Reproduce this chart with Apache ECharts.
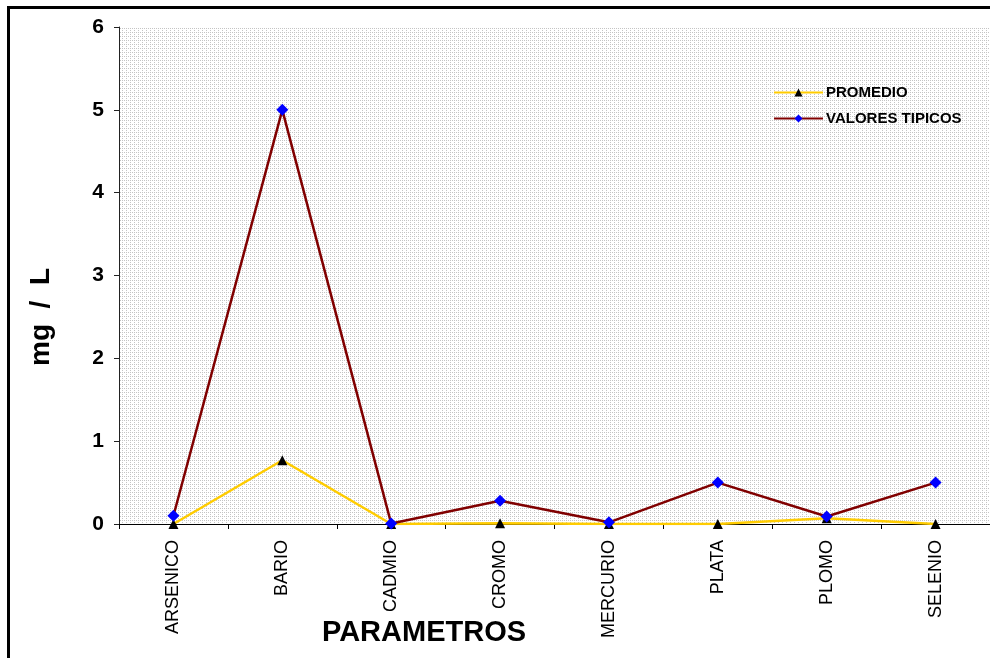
<!DOCTYPE html>
<html><head><meta charset="utf-8">
<script src="https://cdn.jsdelivr.net/npm/echarts@6/dist/echarts.min.js"></script>
<style>html,body{margin:0;padding:0;background:#fff}#c{width:990px;height:658px}</style>
</head><body><div id="c"></div>
<script>
const categories = ['ARSENICO','BARIO','CADMIO','CROMO','MERCURIO','PLATA','PLOMO','SELENIO'];
const promedio = [0, 0.77, 0, 0.01, 0, 0, 0.07, 0];
const valoresTipicos = [0.1, 5, 0.005, 0.28, 0.02, 0.5, 0.09, 0.5];
const yTicks = [0,1,2,3,4,5,6];

const pc = document.createElement('canvas');
pc.width = 4; pc.height = 4;
const g = pc.getContext('2d');
g.fillStyle = '#ffffff'; g.fillRect(0,0,4,4);
g.fillStyle = '#c4c4c4';
g.fillRect(0,0,1,1); g.fillRect(2,2,1,1); g.fillRect(2,0,1,1);

const chart = echarts.init(document.getElementById('c'));
chart.setOption({
  animation: false,
  backgroundColor: '#fff',
  grid: {left: 119, top: 27, width: 886, height: 497, show: true,
    backgroundColor: {image: pc, repeat: 'repeat'}, borderWidth: 0},
  legend: {
    left: 768, top: 80, orient: 'vertical', itemWidth: 49, itemHeight: 10, itemGap: 11,
    textStyle: {fontFamily: 'Liberation Sans, Arial', fontWeight: 'bold', fontSize: 15, color: '#000', padding: [0,0,0,-2]},
    data: ['PROMEDIO', 'VALORES TIPICOS']
  },
  xAxis: {
    type: 'category', data: categories, boundaryGap: true,
    axisLine: {lineStyle: {color: '#000', width: 1}},
    axisTick: {show: true, length: 5, lineStyle: {color: '#000'}},
    axisLabel: {rotate: 90, fontFamily: 'Liberation Sans, Arial', fontSize: 18, color: '#000', margin: 16}
  },
  yAxis: {
    type: 'value', min: 0, max: 6, interval: 1,
    axisLine: {show: true, lineStyle: {color: '#222', width: 1}},
    axisTick: {show: true, length: 5, lineStyle: {color: '#222'}},
    splitLine: {show: false},
    axisLabel: {fontFamily: 'Liberation Sans, Arial', fontWeight: 'bold', fontSize: 21, color: '#000', margin: 15,
      formatter: v => yTicks.includes(v) ? String(v) : ''}
  },
  series: [
    {name: 'PROMEDIO', type: 'line', data: promedio, symbol: 'triangle', symbolSize: 10,
      lineStyle: {color: '#FFCC00', width: 2.5}, itemStyle: {color: '#000'}, z: 2},
    {name: 'VALORES TIPICOS', type: 'line', data: valoresTipicos, symbol: 'diamond', symbolSize: 12,
      lineStyle: {color: '#800000', width: 2.5}, itemStyle: {color: '#0000FF'}, z: 3}
  ],
  graphic: [
    {type: 'rect', shape: {x: 8.5, y: 7.5, width: 1100, height: 800}, style: {fill: null, stroke: '#000', lineWidth: 3}, silent: true},
    {type: 'text', x: 424, y: 633, style: {text: 'PARAMETROS', font: 'bold 29px "Liberation Sans", Arial', fill: '#000', textAlign: 'center', textVerticalAlign: 'middle'}},
    {type: 'text', x: 41, y: 317, rotation: Math.PI/2, style: {text: 'mg  /  L', font: 'bold 28px "Liberation Sans", Arial', fill: '#000', textAlign: 'center', textVerticalAlign: 'middle'}}
  ]
});
</script></body></html>
